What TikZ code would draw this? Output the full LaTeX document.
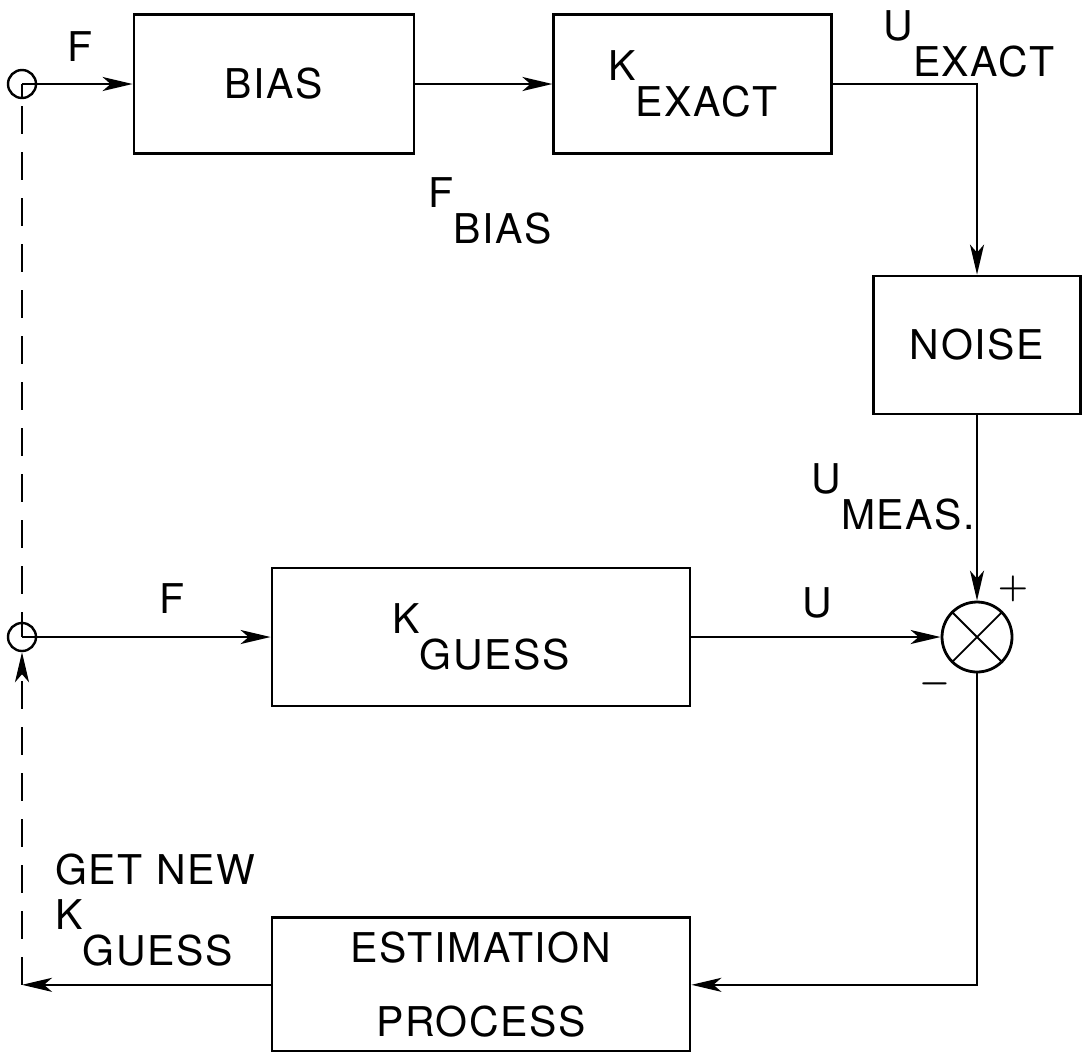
\documentclass[tikz,border=0pt]{standalone}
\usepackage{fontspec}
\setsansfont{TeX Gyre Heros}[LetterSpace=4]
\usepackage{tikz}
\usetikzlibrary{positioning,arrows.meta,calc}
\newcommand{\lowtxt}[2]{#1\raisebox{-0.88em}{#2}}

\begin{document}
\begin{tikzpicture}[x=0.5pt, y=-0.5pt,
  font=\sffamily\fontsize{20.5}{37}\selectfont,
  block/.style={rectangle, draw, line width=1.4pt, inner sep=0pt, align=center},
  tap/.style={circle, draw, line width=1.2pt, minimum size=14pt, inner sep=0pt},
  summer/.style={circle, draw, line width=1.4pt, minimum size=35pt, inner sep=0pt},
  arr/.style={-{Stealth[length=15pt, width=7pt, inset=4pt]}, line width=1.2pt},
  fbline/.style={line width=1.2pt, dash pattern=on 14pt off 9pt},
  lbl/.style={inner sep=0pt},
  sgn/.style={inner sep=0pt, font=\fontsize{17}{18}\selectfont\boldmath}]
\useasboundingbox (0,0) rectangle (1090,1051);
% forward path
\node[tap] (in1) at (22,84) {};
\node[block, minimum width=140pt, minimum height=69.5pt] (bias) at (274,84) {BIAS};
\node[block, minimum width=139pt, minimum height=69.5pt, right=68.5pt of bias] (kex) {\lowtxt{K}{EXACT}};
\node[block, minimum width=103.5pt, minimum height=69pt] (noise) at (977,345) {NOISE};
\node[summer] (sum) at (977,637) {};
\draw[line width=0.9pt] (sum.north east) -- (sum.south west) (sum.north west) -- (sum.south east);
% model path
\node[tap] (in2) at (22,637) {};
\node[block, minimum width=209pt, minimum height=69pt] (kgs) at (481,637) {\lowtxt{K}{GUESS}};
\node[block, minimum width=209pt, minimum height=67pt, below=104.5pt of kgs] (est) {ESTIMATION\\PROCESS};
\coordinate (fb) at (in2 |- est);
% connectors
\draw[line width=1pt] (in1.center) -- (in1.south);
\draw[line width=1pt] (in2.center) -- (in2.north);
\draw[arr] (in1.center) -- (bias);
\draw[arr] (bias) -- (kex);
\draw[arr] (kex) -| (noise);
\draw[arr, line width=0.9pt] (noise) -- (sum);
\draw[arr] (in2.center) -- (kgs);
\draw[arr] (kgs) -- (sum);
\draw[arr] (sum) |- (est);
\draw[arr] (est) -- (fb);
\draw[fbline, arr] (fb) -- (in2);
\draw[fbline, dash phase=9pt] (in2) -- (in1);
% labels
\node[lbl] (fa) at (80,47) {F};
\node[lbl, anchor=north west] (uex) at (883,10) {\lowtxt{U}{EXACT}};
\node[lbl, anchor=north west] (fbs) at (428,177) {\lowtxt{F}{BIAS}};
\node[lbl, anchor=north west] (ums) at (811,463) {\lowtxt{U}{MEAS.}};
\node[sgn] (plus) at (1013,589) {$+$};
\node[sgn] (minus) at (935,684) {$-$};
\node[lbl] (fb2) at (172,599) {F};
\node[lbl] (uo) at (817,603) {U};
\node[lbl, anchor=north west, align=left, font=\sffamily\fontsize{20.5}{22.5}\selectfont] (gnk) at (55,853) {GET NEW\\\lowtxt{K}{GUESS}};
\end{tikzpicture}
\end{document}
